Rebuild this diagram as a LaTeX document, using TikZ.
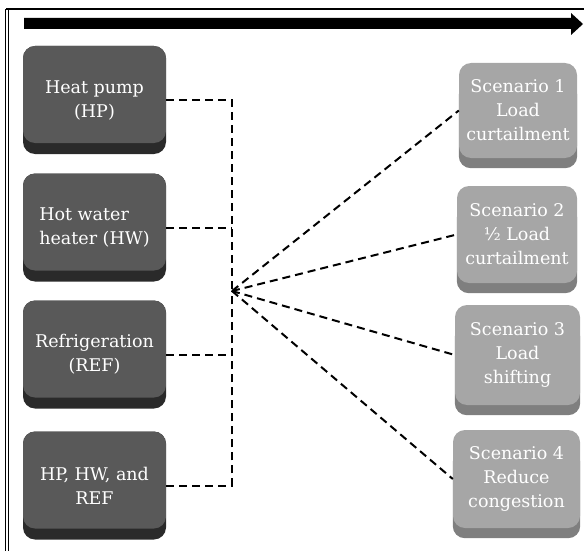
\documentclass[tikz,border=0pt]{standalone}
\usepackage{fontspec}
\setmainfont{DejaVu Serif}
\usetikzlibrary{arrows.meta,backgrounds}
\definecolor{lface}{HTML}{595959}
\definecolor{lshadow}{HTML}{2A2A2A}
\definecolor{rface}{HTML}{A6A6A6}
\definecolor{rshadow}{HTML}{7F7F7F}
\begin{document}
\begin{tikzpicture}[x=1pt,y=-1pt,
  txt/.style={text=white, align=center, font=\fontsize{17.5}{24}\selectfont, inner sep=0pt},
  lbox/.style={txt, fill=lshadow, rounded corners=12pt, minimum width=143pt, minimum height=108pt,
    path picture={\fill[lface, rounded corners=12pt] (path picture bounding box.north west) rectangle ([yshift=11pt]path picture bounding box.south east);}},
  rbox/.style={txt, fill=rface, rounded corners=12pt},
  conn/.style={line width=2pt, dash pattern=on 8pt off 5pt},
]
\useasboundingbox (0,0) rectangle (584,551);

% frame
\draw[line width=0.9pt, double distance=1.6pt] (7,551) -- (7,9.5);
\draw[line width=2pt] (6,9.5) -- (584,9.5);

% time arrow
\fill[black] (24,18) -- (571,18) -- (571,13) -- (583,24) -- (571,35) -- (571,29) -- (24,29) -- cycle;

% left boxes
\node[lbox] (hp) at (94.5,100) {Heat pump\\(HP)};
\node[lbox, align=left] (hw) at (94.5,227.5) {Hot water\\heater (HW)};
\node[lbox] (ref) at (94.5,354.5) {Refrigeration\\(REF)};
\node[lbox] (all) at (94.5,485.5) {HP, HW, and\\REF};

% right boxes
\node[rbox, minimum width=118pt, minimum height=95pt] (s1) at (518,110.5) {Scenario 1\\Load\\curtailment};
\node[rbox, minimum width=120pt, minimum height=97pt] (s2) at (517,234.5) {Scenario 2\\½ Load\hspace*{16pt}\\curtailment};
\node[rbox, minimum width=125pt, minimum height=100pt] (s3) at (517.5,355) {Scenario 3\\Load\\shifting};
\node[rbox, minimum width=127pt, minimum height=98pt] (s4) at (516.5,479) {Scenario 4\\Reduce\\congestion};

\begin{scope}[on background layer]
  \foreach \n in {s1,s2,s3,s4}
    \fill[rshadow, rounded corners=12pt] ([yshift=-20pt]\n.north west) rectangle ([yshift=-10pt]\n.south east);
\end{scope}

% connectors
\coordinate (hub) at (232,291);
\draw[conn] (hp.east) -| (hub);
\draw[conn] (all.east) -| (hub);
\draw[conn] (hw.east) -- (hw.east -| hub);
\draw[conn] (ref.east) -- (ref.east -| hub);
\foreach \n in {s1,s2,s3,s4}
  \draw[conn] (hub) -- (\n.west);
\end{tikzpicture}
\end{document}
